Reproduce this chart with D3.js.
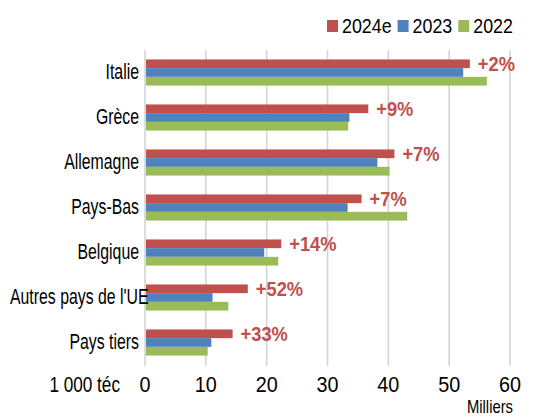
<!DOCTYPE html>
<html>
<head>
<meta charset="utf-8">
<script src="https://cdn.jsdelivr.net/npm/d3@7"></script>
<style>
  body { margin: 0; background: #fff; }
  svg { display: block; font-family: "Liberation Sans", Arial, sans-serif; }
</style>
</head>
<body>
<svg id="chart" width="536" height="417"></svg>
<script>
// **** Data
const categories = ["Italie", "Grèce", "Allemagne", "Pays-Bas", "Belgique", "Autres pays de l'UE", "Pays tiers"];
const series = ["2024e", "2023", "2022"];
const values2024 = [53.4, 36.7, 41.0, 35.6, 22.4, 16.9, 14.4];
const values2023 = [52.3, 33.6, 38.2, 33.3, 19.6, 11.1, 10.9];
const values2022 = [56.2, 33.4, 40.2, 43.1, 21.9, 13.7, 10.3];
const changes = ["+2%", "+9%", "+7%", "+7%", "+14%", "+52%", "+33%"];
const ticks = [0, 10, 20, 30, 40, 50, 60];

const colors = { "2024e": "#C0504D", "2023": "#4F81BD", "2022": "#9BBB59" };
const rows = categories.map((c, i) => ({
  name: c,
  change: changes[i],
  "2024e": values2024[i],
  "2023": values2023[i],
  "2022": values2022[i]
}));

// condensed look: squeeze Liberation Sans horizontally
const at = (px, py, k) => `translate(${px},${py}) scale(${k},1)`;
const catK = 0.72;

const svg = d3.select("#chart");

// **** Scales
const x = d3.scaleLinear().domain([0, 60]).range([145, 510]);
const y = d3.scaleBand().domain(categories).range([50, 365]).paddingInner(0.42).paddingOuter(0.21);
const ySub = d3.scaleBand().domain(series).range([0, y.bandwidth()]);

// **** Gridlines
svg.append("g")
  .selectAll("line")
  .data(ticks)
  .join("line")
  .attr("x1", d => x(d)).attr("x2", d => x(d))
  .attr("y1", 50).attr("y2", 366)
  .attr("stroke", "#d4d4d4")
  .attr("stroke-width", 1.6);

// **** Bars
const groups = svg.append("g")
  .selectAll("g")
  .data(rows)
  .join("g")
  .attr("transform", d => `translate(0,${y(d.name)})`);

groups.selectAll("rect")
  .data(d => series.map(s => ({ s, v: d[s] })))
  .join("rect")
  .attr("x", x(0) + 1)
  .attr("y", d => ySub(d.s))
  .attr("width", d => x(d.v) - x(0) - 1)
  .attr("height", ySub.bandwidth())
  .attr("fill", d => colors[d.s]);

// change labels next to 2024e bar
groups.append("text")
  .attr("transform", d => at(x(d["2024e"]) + 8, ySub("2024e") + ySub.bandwidth() / 2, 0.87))
  .attr("dy", "0.36em")
  .attr("font-size", 21)
  .attr("font-weight", "bold")
  .attr("fill", "#C0504D")
  .text(d => d.change);

// **** Category labels
const catY = d => y(d.name) + y.bandwidth() / 2 + 6;
const catLabels = svg.append("g")
  .selectAll("text")
  .data(rows)
  .join("text")
  .attr("transform", d => at(139, catY(d), catK))
  .attr("text-anchor", "end")
  .attr("font-size", 22)
  .attr("fill", "#000")
  .text(d => d.name);

// long labels spill over the axis, as in the original
catLabels.each(function(d) {
  const w = this.getComputedTextLength() * catK;
  if (139 - w < 10) {
    d3.select(this)
      .attr("text-anchor", "start")
      .attr("transform", at(10, catY(d), catK));
  }
});

// **** Tick labels
svg.append("g")
  .selectAll("text")
  .data(ticks)
  .join("text")
  .attr("transform", d => at(x(d), 392, 0.9))
  .attr("text-anchor", "middle")
  .attr("font-size", 22)
  .text(d => d);

svg.append("text")
  .attr("transform", at(120, 392, 0.78))
  .attr("text-anchor", "end")
  .attr("font-size", 22)
  .text("1 000 téc");

svg.append("text")
  .attr("transform", at(513, 413, 0.8))
  .attr("text-anchor", "end")
  .attr("font-size", 18.5)
  .text("Milliers");

// **** Legend
const legend = svg.append("g");
let lx = 327;
series.forEach(s => {
  legend.append("rect")
    .attr("x", lx).attr("y", 20)
    .attr("width", 11).attr("height", 12)
    .attr("fill", colors[s]);
  const t = legend.append("text")
    .attr("transform", at(lx + 15, 33, 0.85))
    .attr("font-size", 21)
    .text(s);
  lx += 15 + t.node().getComputedTextLength() * 0.85 + 6;
});
</script>
</body>
</html>
